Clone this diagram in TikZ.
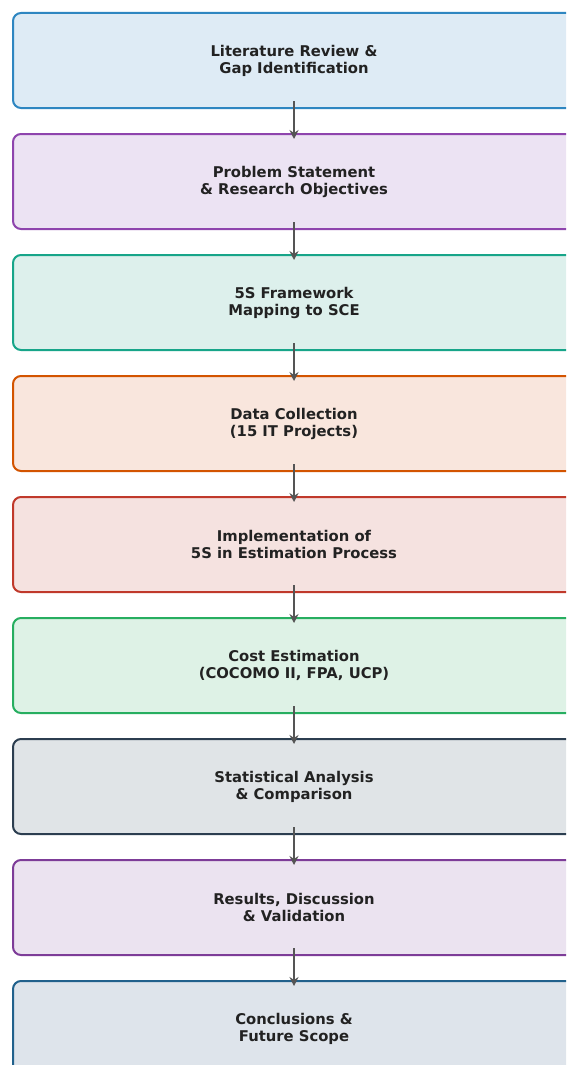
\documentclass[tikz,border=0pt]{standalone}
\usepackage{fontspec}
\setmainfont{DejaVu Sans}
\usetikzlibrary{arrows.meta}
\definecolor{b1}{HTML}{2E86C1}\definecolor{f1}{HTML}{DEEBF5}
\definecolor{b2}{HTML}{8E44AD}\definecolor{f2}{HTML}{ECE3F3}
\definecolor{b3}{HTML}{17A589}\definecolor{f3}{HTML}{DDF0EC}
\definecolor{b4}{HTML}{D35400}\definecolor{f4}{HTML}{F9E6DD}
\definecolor{b5}{HTML}{C0392B}\definecolor{f5}{HTML}{F5E2E0}
\definecolor{b6}{HTML}{27AE60}\definecolor{f6}{HTML}{DEF2E6}
\definecolor{b7}{HTML}{2C3E50}\definecolor{f7}{HTML}{E0E4E7}
\definecolor{b8}{HTML}{7D3C98}\definecolor{f8}{HTML}{EBE3F0}
\definecolor{b9}{HTML}{21618C}\definecolor{f9}{HTML}{DEE4EB}
\definecolor{txt}{HTML}{222222}
\definecolor{arrc}{HTML}{555555}
\tikzset{
  stagebox/.style={draw=#1, rectangle, rounded corners=8pt, line width=2pt,
    minimum width=562pt, minimum height=95pt, align=center, text=txt,
    font=\fontsize{14.8pt}{17pt}\selectfont\bfseries, inner sep=0pt},
  flowarr/.style={draw=arrc, line width=2.2pt, -{Stealth[length=9pt,width=9pt]}}
}
\begin{document}
\begin{tikzpicture}[x=1pt,y=-1pt]
\useasboundingbox (0,0) rectangle (566,1065);
\clip (0,0) rectangle (566,1065);
\fill[white] (0,0) rectangle (566,1065);
\node[stagebox=b1, fill=f1] (n1) at (294,60.5) {Literature Review \&\\Gap Identification};
\node[stagebox=b2, fill=f2] (n2) at (294,181.5) {Problem Statement\\\& Research Objectives};
\node[stagebox=b3, fill=f3] (n3) at (294,302.5) {5S Framework\\Mapping to SCE};
\node[stagebox=b4, fill=f4] (n4) at (294,423.5) {Data Collection\\(15 IT Projects)};
\node[stagebox=b5, fill=f5] (n5) at (294,544.5) {Implementation of\\5S in Estimation Process};
\node[stagebox=b6, fill=f6] (n6) at (294,665.5) {Cost Estimation\\(COCOMO II, FPA, UCP)};
\node[stagebox=b7, fill=f7] (n7) at (294,786.5) {Statistical Analysis\\\& Comparison};
\node[stagebox=b8, fill=f8] (n8) at (294,907.5) {Results, Discussion\\\& Validation};
\node[stagebox=b9, fill=f9] (n9) at (294,1028.5) {Conclusions \&\\Future Scope};
\foreach \a/\b in {n1/n2,n2/n3,n3/n4,n4/n5,n5/n6,n6/n7,n7/n8,n8/n9}
  \draw[flowarr] ([yshift=8pt]\a.south) -- ([yshift=-6pt]\b.north);
\end{tikzpicture}
\end{document}
